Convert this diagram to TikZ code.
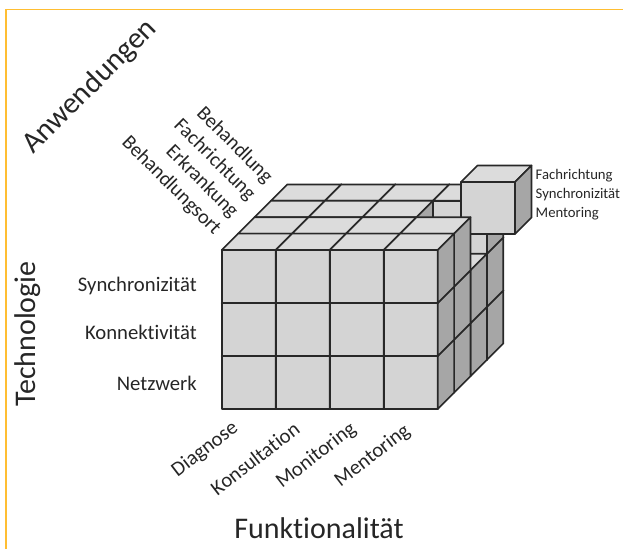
\documentclass[tikz,border=0pt]{standalone}
\usepackage{fontspec}
\setmainfont{Carlito}[Ligatures=NoCommon]
\definecolor{frontc}{RGB}{212,212,212}
\definecolor{topc}{RGB}{220,220,220}
\definecolor{sidec}{RGB}{166,166,166}
\definecolor{edgec}{RGB}{40,40,40}
\definecolor{txtc}{RGB}{38,38,38}
\definecolor{framec}{RGB}{255,190,50}
\newcommand\vcube[3]{%
  \filldraw[face, fill=frontc] (#1,#2,#3) -- ++(1,0,0) -- ++(0,1,0) -- ++(-1,0,0) -- cycle;
  \filldraw[face, fill=topc] (#1,#2+1,#3) -- ++(1,0,0) -- ++(0,0,1) -- ++(-1,0,0) -- cycle;
  \filldraw[face, fill=sidec] (#1+1,#2,#3) -- ++(0,0,1) -- ++(0,1,0) -- ++(0,0,-1) -- cycle;
}
\newcommand\cubelayers[1]{%
  \foreach \d in {#1} {
    \foreach \j in {0,1,2} {
      \foreach \i in {0,1,2,3} {
        \pgfmathtruncatemacro\skipit{(\i==3)&&(\j==2)&&(\d==2)}
        \ifnum\skipit=0 \vcube{\i}{\j}{\d}\fi
      }
    }
  }
}
\begin{document}
\begin{tikzpicture}[x=1pt,y=-1pt,
  face/.style={draw=edgec, line width=1.7pt, line join=round},
  lab/.style={text=txtc, inner sep=0pt, font=\fontsize{20.7}{24}\selectfont},
  deplab/.style={text=txtc, inner sep=0pt, font=\fontsize{20.3}{24}\selectfont, rotate=-45, anchor=east},
  biglab/.style={text=txtc, inner sep=0pt, font=\fontsize{30}{36}\selectfont},
  cubespace/.style={shift={(221.7,409)}, x={(54pt,0pt)}, y={(0pt,53pt)}, z={(16.4pt,16.4pt)}}
]
\useasboundingbox (0,0) rectangle (623,549);
% frame (top and left only)
\draw[framec, line width=1.5pt] (6,549) -- (6,9.3) -- (623,9.3);

% back layers of the cube
\begin{scope}[cubespace]
  \cubelayers{3,2}
\end{scope}

% the pulled-out cube
\filldraw[face, fill=frontc] (461,182) rectangle (515,234);
\filldraw[face, fill=topc] (461,182) -- (477.5,165.5) -- (531.5,165.5) -- (515,182) -- cycle;
\filldraw[face, fill=sidec] (515,182) -- (531.5,165.5) -- (531.5,217.5) -- (515,234) -- cycle;

% front layers of the cube
\begin{scope}[cubespace]
  \cubelayers{1,0}
\end{scope}

% labels
\node[lab, anchor=east] (synch) at (197,286) {Synchronizität};
\node[lab, anchor=east] (konn) at (197,332) {Konnektivität};
\node[lab, anchor=east] (netz) at (197,383) {Netzwerk};

\node[biglab, rotate=90] (tech) at (27.6,334) {Technologie};
\node[biglab, rotate=45] (anw) at (90,87) {Anwendungen};
\node[biglab] (funk) at (319,528) {Funktionalität};

\node[lab, rotate=37.5, anchor=east] (diag) at (236,426) {Diagnose};
\node[lab, rotate=37.5, anchor=east] (kons) at (297,426) {Konsultation};
\node[lab, rotate=37.5, anchor=east] (moni) at (354,427) {Monitoring};
\node[lab, rotate=37.5, anchor=east] (ment) at (408,429) {Mentoring};

\node[deplab] (bort) at (217.5,232.2) {Behandlungsort};
\node[deplab] (erkr) at (234.8,214.9) {Erkrankung};
\node[deplab] (fach) at (252.1,197.6) {Fachrichtung};
\node[deplab] (beh) at (269.4,180.3) {Behandlung};

\node[anchor=west, align=left, text=txtc, inner sep=0pt, font=\fontsize{14.7}{19}\selectfont] (flab) at (535.5,195) {Fachrichtung\\Synchronizität\\Mentoring};
\end{tikzpicture}
\end{document}
